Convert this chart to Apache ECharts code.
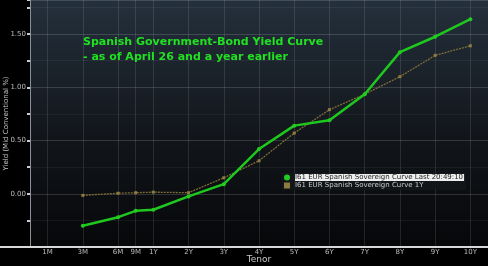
<!DOCTYPE html>
<html><head><meta charset="utf-8">
<script src="https://cdn.jsdelivr.net/npm/echarts@6/dist/echarts.min.js"></script>
<style>html,body{margin:0;padding:0;background:#000;}#c{width:488px;height:266px;}</style>
</head><body><div id="c"></div>
<script>
// Axis slots (Bloomberg-style tenor spacing); blanks are unlabeled slots
var axisSlots = ['', '1M', '', '3M', '', '6M', '9M', '1Y', '', '2Y', '', '3Y', '', '4Y', '', '5Y', '', '6Y', '', '7Y', '', '8Y', '', '9Y', '', '10Y', ''];
var tenors = ['3M', '6M', '9M', '1Y', '2Y', '3Y', '4Y', '5Y', '6Y', '7Y', '8Y', '9Y', '10Y'];
var lastCurve = [-0.30, -0.22, -0.16, -0.15, -0.025, 0.09, 0.42, 0.64, 0.69, 0.935, 1.33, 1.475, 1.64];
var yearAgoCurve = [-0.015, 0.005, 0.01, 0.015, 0.01, 0.15, 0.31, 0.57, 0.79, 0.935, 1.10, 1.30, 1.39];
var seriesNames = ['I61 EUR Spanish Sovereign Curve Last 20:49:10', 'I61 EUR Spanish Sovereign Curve 1Y'];
var yLabels = [0, 0.5, 1.0, 1.5];

function toSlots(vals) {
  return axisSlots.map(function (s) {
    var i = s === '' ? -1 : tenors.indexOf(s);
    return i >= 0 ? vals[i] : null;
  });
}
var labeled = function (idx, val) { return val !== ''; };

var chart = echarts.init(document.getElementById('c'), null, {renderer: 'canvas'});
chart.setOption({
  backgroundColor: '#000',
  animation: false,
  title: {
    text: 'Spanish Government-Bond Yield Curve\n- as of April 26 and a year earlier',
    left: 78, top: 30,
    textStyle: {color: '#22e022', fontFamily: 'DejaVu Sans', fontWeight: 'bold', fontSize: 11, lineHeight: 15}
  },
  legend: {
    orient: 'vertical', left: 282, top: 173, itemGap: 1,
    itemWidth: 6, itemHeight: 6, padding: [1, 2, 1, 2],
    backgroundColor: 'rgba(20,22,26,0.85)',
    textStyle: {color: '#c8c8c8', fontSize: 7, fontFamily: 'DejaVu Sans', padding: [0, 1, 0, 0]},
    data: [
      {name: seriesNames[0], icon: 'circle', textStyle: {backgroundColor: '#eeeeee', color: '#222', fontSize: 7}},
      {name: seriesNames[1], icon: 'rect', itemStyle: {color: '#8c7a3e'}}
    ]
  },
  grid: {left: 30, right: 0, top: 0, bottom: 19, show: true, borderWidth: 0,
    outerBoundsMode: 'none', containLabel: false,
    backgroundColor: {type: 'linear', x: 0, y: 0, x2: 0, y2: 1,
      colorStops: [{offset: 0, color: '#24303c'}, {offset: 0.55, color: '#12161b'}, {offset: 1, color: '#060709'}]}},
  graphic: [{type: 'rect', shape: {x: 0, y: 246, width: 488, height: 2}, style: {fill: '#d8d8d8'}, z: 10}],
  xAxis: {
    type: 'category', data: axisSlots, boundaryGap: false,
    axisLine: {show: true, onZero: false, lineStyle: {color: '#d8d8d8', width: 2}},
    axisTick: {show: false},
    axisLabel: {interval: labeled, color: '#bdbdbd', fontSize: 7, fontFamily: 'DejaVu Sans', margin: 2},
    splitLine: {show: true, interval: labeled, lineStyle: {color: 'rgba(255,255,255,0.11)', width: 1}},
    name: 'Tenor', nameLocation: 'middle', nameGap: 8, nameMoveOverlap: false,
    nameTextStyle: {color: '#c8c8c8', fontSize: 9, fontFamily: 'DejaVu Sans'}
  },
  yAxis: {
    type: 'value', min: -0.5, max: 1.82, interval: 0.25,
    axisLine: {show: true, lineStyle: {color: '#8a9098', width: 1}},
    axisTick: {show: true, length: 3, lineStyle: {color: '#cccccc', width: 2}},
    axisLabel: {color: '#bdbdbd', fontSize: 7, fontFamily: 'DejaVu Sans', margin: 4,
      formatter: function (v) {
        for (var i = 0; i < yLabels.length; i++) if (Math.abs(v - yLabels[i]) < 1e-6) return v.toFixed(2);
        return '';
      }},
    splitLine: {show: true, lineStyle: {color: ['rgba(255,255,255,0.15)', 'rgba(255,255,255,0.05)'], width: 1}},
    name: 'Yield (Mid Conventional %)', nameLocation: 'middle', nameGap: 20, nameRotate: 90, nameMoveOverlap: false,
    nameTextStyle: {color: '#c8c8c8', fontSize: 7, fontFamily: 'DejaVu Sans'}
  },
  series: [
    {name: seriesNames[0], type: 'line', data: toSlots(lastCurve), connectNulls: true, z: 3,
      symbol: 'circle', symbolSize: 4, showSymbol: true,
      lineStyle: {color: '#1ec81e', width: 2.5}, itemStyle: {color: '#22cc22'}},
    {name: seriesNames[1], type: 'line', data: toSlots(yearAgoCurve), connectNulls: true, z: 2,
      symbol: 'rect', symbolSize: 3, showSymbol: true,
      lineStyle: {color: '#7d6d38', width: 1.3, type: [2, 1]}, itemStyle: {color: '#8c7a3e'}}
  ]
});
</script></body></html>
